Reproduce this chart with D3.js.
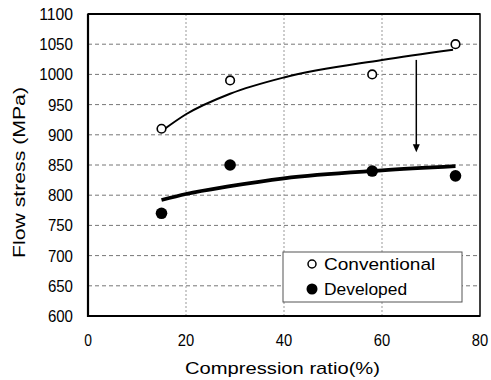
<!DOCTYPE html>
<html>
<head>
<meta charset="utf-8">
<script src="https://cdn.jsdelivr.net/npm/d3@7"></script>
<style>
  body { margin: 0; background: #fff; }
  text { font-family: "Liberation Sans", Arial, sans-serif; fill: #000; }
</style>
</head>
<body>
<div id="graph"></div>
<script>
// measured points
var ratio = [15, 29, 58, 75]
var conventional = [910, 990, 1000, 1050]
var developed = [770, 850, 840, 832]

// trend curves
var convTrendX = [15, 20, 29, 40, 60, 74.5]
var convTrendY = [906, 934, 968, 995, 1024, 1041]
var devTrendX = [15, 20, 29, 40, 60, 75]
var devTrendY = [792, 802, 815, 828, 841, 848]

// arrow annotation (x, from, to)
var arrowX = 67
var arrowFrom = 1024
var arrowTo = 871

var xTicks = [0, 20, 40, 60, 80]
var yTicks = [600, 650, 700, 750, 800, 850, 900, 950, 1000, 1050, 1100]
var legendNames = ["Conventional", "Developed"]

var width = 491, height = 380
var margin = {top: 14, left: 88, bottom: 64, right: 11}
var chartWidth = width - margin.left - margin.right
var chartHeight = height - margin.top - margin.bottom
var charW = 8.7   // glyph advance of the narrow label font

var svg = d3.select("#graph").append("svg")
    .attr("width", width).attr("height", height)

var x = d3.scaleLinear().domain([0, 80]).range([margin.left, margin.left + chartWidth])
var y = d3.scaleLinear().domain([600, 1100]).range([margin.top + chartHeight, margin.top])

// grid
svg.append("g").selectAll("line")
    .data(yTicks.slice(1, -1))
    .enter().append("line")
    .attr("x1", x(0)).attr("x2", x(80))
    .attr("y1", function(d) { return y(d) }).attr("y2", function(d) { return y(d) })
    .attr("stroke", "#777").attr("stroke-width", 1)
    .attr("stroke-dasharray", "4,3")

svg.append("g").selectAll("line")
    .data(xTicks.slice(1, -1))
    .enter().append("line")
    .attr("x1", function(d) { return x(d) }).attr("x2", function(d) { return x(d) })
    .attr("y1", y(600)).attr("y2", y(1100))
    .attr("stroke", "#999").attr("stroke-width", 1)
    .attr("stroke-dasharray", "2,2")

// frame
svg.append("rect")
    .attr("x", x(0)).attr("y", y(1100))
    .attr("width", chartWidth).attr("height", chartHeight)
    .attr("fill", "none").attr("stroke", "#000").attr("stroke-width", 1.5)
svg.append("path")
    .attr("d", "M" + x(0) + "," + y(1100) + "V" + y(600) + "H" + x(80))
    .attr("fill", "none").attr("stroke", "#000").attr("stroke-width", 2.2)
svg.append("line")
    .attr("x1", x(0)).attr("x2", x(80)).attr("y1", y(1100)).attr("y2", y(1100))
    .attr("stroke", "#000").attr("stroke-width", 2.2)

// tick labels
svg.append("g").selectAll("text")
    .data(yTicks)
    .enter().append("text")
    .attr("x", x(0) - 15)
    .attr("y", function(d) { return y(d) + 6 })
    .attr("text-anchor", "end")
    .attr("font-size", 17)
    .attr("textLength", function(d) { return String(d).length * charW - 1 })
    .attr("lengthAdjust", "spacingAndGlyphs")
    .text(function(d) { return d })

svg.append("g").selectAll("text")
    .data(xTicks)
    .enter().append("text")
    .attr("x", function(d) { return x(d) })
    .attr("y", y(600) + 30)
    .attr("text-anchor", "middle")
    .attr("font-size", 17)
    .attr("textLength", function(d) { return String(d).length * charW - 1 })
    .attr("lengthAdjust", "spacingAndGlyphs")
    .text(function(d) { return d })

// axis titles
svg.append("text")
    .attr("x", 185).attr("y", 374)
    .attr("font-size", 17)
    .attr("textLength", 195).attr("lengthAdjust", "spacingAndGlyphs")
    .text("Compression ratio(%)")

svg.append("text")
    .attr("transform", "translate(25,258) rotate(-90)")
    .attr("font-size", 17)
    .attr("textLength", 171).attr("lengthAdjust", "spacingAndGlyphs")
    .text("Flow stress (MPa)")

// trend curves
var line = d3.line()
    .x(function(d) { return x(d[0]) })
    .y(function(d) { return y(d[1]) })
    .curve(d3.curveMonotoneX)

svg.append("path")
    .datum(d3.zip(convTrendX, convTrendY))
    .attr("d", line)
    .attr("fill", "none").attr("stroke", "#000").attr("stroke-width", 2)

svg.append("path")
    .datum(d3.zip(devTrendX, devTrendY))
    .attr("d", line)
    .attr("fill", "none").attr("stroke", "#000").attr("stroke-width", 3.8)

// arrow
svg.append("line")
    .attr("x1", x(arrowX)).attr("x2", x(arrowX))
    .attr("y1", y(arrowFrom)).attr("y2", y(arrowTo) - 6)
    .attr("stroke", "#000").attr("stroke-width", 1.5)
svg.append("path")
    .attr("d", "M" + (x(arrowX) - 3.5) + "," + (y(arrowTo) - 8) +
               "L" + (x(arrowX) + 3.5) + "," + (y(arrowTo) - 8) +
               "L" + x(arrowX) + "," + y(arrowTo) + "Z")
    .attr("fill", "#000")

// markers
svg.append("g").selectAll("circle")
    .data(d3.zip(ratio, conventional))
    .enter().append("circle")
    .attr("cx", function(d) { return x(d[0]) })
    .attr("cy", function(d) { return y(d[1]) })
    .attr("r", 4.3)
    .attr("fill", "#fff").attr("stroke", "#000").attr("stroke-width", 1.6)

svg.append("g").selectAll("circle")
    .data(d3.zip(ratio, developed))
    .enter().append("circle")
    .attr("cx", function(d) { return x(d[0]) })
    .attr("cy", function(d) { return y(d[1]) })
    .attr("r", 5.8)
    .attr("fill", "#000")

// legend
var legend = svg.append("g")
legend.append("rect")
    .attr("x", 283).attr("y", 252).attr("width", 179).attr("height", 50)
    .attr("fill", "#fff").attr("stroke", "#555").attr("stroke-width", 1)

var items = legend.selectAll("g.item")
    .data(legendNames)
    .enter().append("g").attr("class", "item")
    .attr("transform", function(d, i) { return "translate(312," + (264 + i * 25) + ")" })

items.append("circle")
    .attr("r", function(d, i) { return i === 0 ? 4 : 5.5 })
    .attr("fill", function(d, i) { return i === 0 ? "#fff" : "#000" })
    .attr("stroke", "#000").attr("stroke-width", function(d, i) { return i === 0 ? 1.5 : 0 })

items.append("text")
    .attr("x", 12).attr("y", 5.5)
    .attr("font-size", 17)
    .attr("textLength", function(d) { return d.length * 9.4 - 1.5 })
    .attr("lengthAdjust", "spacingAndGlyphs")
    .text(function(d) { return d })
</script>
</body>
</html>
